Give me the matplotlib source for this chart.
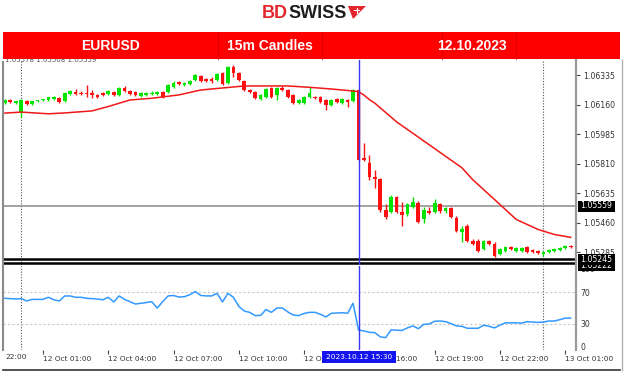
import numpy as np
import matplotlib
matplotlib.use("Agg")
import matplotlib.pyplot as plt
from matplotlib.transforms import Affine2D
from matplotlib.patches import Rectangle, Polygon
from matplotlib.lines import Line2D

W, H = 624, 375

# 15-minute bars, index counted from 12 Oct 00:00 (index 0)
bar_index = list(range(-3, 102))

# prices in points (1e-5)
open_pts = [106170, 106187, 106170, 106116, 106181, 106164, 106181, 106187, 106187, 106193,
            106199, 106181, 106223, 106235, 106229, 106229, 106229, 106217, 106229, 106223,
            106235, 106217, 106258, 106240, 106235, 106211, 106217, 106223, 106223, 106235,
            106235, 106264, 106294, 106276, 106282, 106305, 106329, 106311, 106311, 106305,
            106347, 106288, 106382, 106347, 106300, 106246, 106235, 106193, 106205, 106258,
            106217, 106258, 106246, 106217, 106170, 106170, 106205, 106205, 106205, 106187,
            106158, 106193, 106170, 106187, 106181, 106246, 105844, 105815, 105732, 105720,
            105537, 105525, 105614, 105525, 105508, 105555, 105578, 105478, 105531, 105525,
            105567, 105531, 105549, 105484, 105401, 105437, 105348, 105348, 105301, 105348,
            105330, 105271, 105289, 105313, 105289, 105289, 105313, 105295, 105289, 105271,
            105283, 105289, 105295, 105307, 105318]
high_pts = [106193, 106193, 106181, 106193, 106187, 106181, 106187, 106193, 106205, 106211,
            106205, 106235, 106246, 106252, 106240, 106276, 106246, 106223, 106235, 106246,
            106240, 106264, 106270, 106246, 106240, 106235, 106235, 106240, 106240, 106240,
            106282, 106300, 106300, 106294, 106305, 106341, 106335, 106317, 106323, 106347,
            106353, 106388, 106394, 106353, 106305, 106252, 106240, 106223, 106258, 106264,
            106264, 106270, 106252, 106223, 106193, 106211, 106264, 106211, 106211, 106193,
            106193, 106199, 106199, 106193, 106252, 106252, 105933, 105862, 105774, 105726,
            105567, 105626, 105620, 105584, 105573, 105614, 105590, 105555, 105555, 105602,
            105578, 105555, 105555, 105496, 105437, 105449, 105360, 105360, 105354, 105354,
            105342, 105307, 105318, 105318, 105313, 105313, 105318, 105301, 105295, 105289,
            105301, 105307, 105313, 105324, 105324]
low_pts = [106164, 106170, 106164, 106087, 106158, 106158, 106175, 106181, 106181, 106187,
           106170, 106175, 106217, 106217, 106217, 106205, 106199, 106199, 106211, 106217,
           106211, 106211, 106235, 106217, 106211, 106205, 106211, 106217, 106217, 106199,
           106229, 106258, 106276, 106270, 106276, 106300, 106294, 106294, 106288, 106300,
           106276, 106282, 106323, 106300, 106240, 106229, 106193, 106187, 106199, 106199,
           106187, 106240, 106199, 106164, 106164, 106164, 106199, 106193, 106170, 106128,
           106152, 106170, 106164, 106146, 106175, 105827, 105827, 105714, 105667, 105525,
           105478, 105514, 105519, 105437, 105496, 105549, 105460, 105460, 105508, 105514,
           105519, 105514, 105484, 105401, 105342, 105342, 105324, 105283, 105295, 105324,
           105254, 105265, 105283, 105295, 105283, 105283, 105277, 105277, 105271, 105259,
           105277, 105283, 105289, 105301, 105307]
close_pts = [106187, 106175, 106181, 106187, 106164, 106181, 106187, 106193, 106205, 106205,
             106175, 106229, 106240, 106223, 106223, 106223, 106217, 106205, 106217, 106240,
             106217, 106258, 106240, 106223, 106217, 106229, 106229, 106229, 106235, 106205,
             106276, 106288, 106282, 106288, 106300, 106335, 106300, 106300, 106300, 106341,
             106282, 106382, 106347, 106305, 106246, 106235, 106199, 106217, 106252, 106205,
             106258, 106246, 106205, 106170, 106187, 106205, 106229, 106199, 106175, 106158,
             106187, 106175, 106193, 106175, 106246, 105833, 105833, 105732, 105720, 105537,
             105490, 105614, 105525, 105502, 105567, 105584, 105466, 105537, 105519, 105573,
             105531, 105549, 105490, 105407, 105419, 105348, 105330, 105289, 105348, 105330,
             105259, 105301, 105313, 105301, 105307, 105307, 105283, 105283, 105277, 105283,
             105295, 105301, 105307, 105318, 105313]

# moving average read at selected bars
ma_index = [-3, 0, 5, 8, 13, 16, 20, 24, 29, 33, 41, 49, 53, 57, 61, 62, 63, 64, 65,
            69, 75, 81, 83, 88, 91, 95, 98, 101]
ma_pts = [106109, 106115, 106105, 106110, 106122, 106148, 106187, 106197, 106217, 106246,
          106270, 106270, 106262, 106252, 106240, 106236, 106216, 106189, 106168,
          106057, 105921, 105785, 105714, 105567, 105478, 105419, 105389, 105372]

rsi = [62.4, 62, 61.5, 62, 59, 61, 61, 61, 63.7, 60.5,
       59, 65.4, 65.4, 63.7, 63.7, 62.4, 62, 61.5, 60.5, 63.7,
       57.7, 65.4, 61, 58, 55.1, 56, 57, 58, 50, 58,
       65.4, 66, 64, 64.5, 67, 71, 66, 65.5, 65.4, 68.8,
       57.7, 68.8, 63.7, 52, 46.1, 44.4, 40.2, 40.5, 48, 44.4,
       50, 50, 45, 41, 40.2, 43, 44.4, 44.4, 41.9, 38.5,
       43.2, 43.5, 44, 43.2, 56, 21.8, 20.5, 18.8, 18.4, 13,
       12, 22, 21.5, 21.2, 24.5, 27, 23.5, 29, 29.5, 33,
       33.3, 32.5, 30, 27, 26.5, 24, 24, 24, 28, 26.5,
       24.5, 28, 31, 31, 31, 30.5, 32.5, 32, 31.5, 32,
       33.3, 33.3, 35, 37, 37]

price_ticks = [1.06335, 1.06160, 1.05985, 1.05810, 1.05635, 1.05460, 1.05285]
rsi_ticks = [0, 30, 70, 100]
rsi_levels = [30, 70]
time_tick_index = [4, 16, 28, 40, 52, 64, 76, 88, 100]
time_tick_labels = ["12 Oct 01:00", "12 Oct 04:00", "12 Oct 07:00", "12 Oct 10:00",
                    "12 Oct 13:00", "12 Oct 16:00", "12 Oct 19:00", "12 Oct 22:00",
                    "13 Oct 01:00"]
day_sep_index = [0, 96]
event_index = 62
event_label = "2023.10.12 15:30"
hline_grey = 1.05559
hlines_black = [1.05245, 1.05222]

idx = np.array(bar_index, dtype=float)
o = np.array(open_pts) / 1e5
h = np.array(high_pts) / 1e5
l = np.array(low_pts) / 1e5
c = np.array(close_pts) / 1e5

fig = plt.figure(figsize=(W / 100, H / 100), dpi=100)
fig.patch.set_facecolor("white")
px = Affine2D().scale(1 / W, -1 / H).translate(0, 1) + fig.transFigure


def rect(x0, y0, x1, y1):
    return [x0 / W, 1 - y1 / H, (x1 - x0) / W, (y1 - y0) / H]


XL = (-3.35, 101.98)
ax = fig.add_axes(rect(3, 60, 576, 265))
ax2 = fig.add_axes(rect(3, 266, 576, 350))

GREEN = "#00E400"
RED = "#FF1010"

# candles
cols = [GREEN if cc >= oo else RED for oo, cc in zip(o, c)]
ax.vlines(idx, l, h, colors=cols, linewidth=1.0, zorder=3)
body_b = np.minimum(o, c)
body_h = np.maximum(np.abs(c - o), 0.00003)
ax.bar(idx, body_h, bottom=body_b, width=0.68, color=cols, linewidth=0, zorder=4)

# moving average
ax.plot(ma_index, np.array(ma_pts) / 1e5, color="#F01818", lw=1.1, zorder=5)

# horizontal lines
ax.axhline(hline_grey, color="#8a8a8a", lw=1.1, zorder=2)
for v in hlines_black:
    ax.axhline(v, color="black", lw=1.8, zorder=2)

for a in (ax, ax2):
    for d in day_sep_index:
        a.axvline(d, color="#555555", lw=0.8, ls=(0, (1, 1.5)), zorder=1)
    a.axvline(event_index, color="#3838F0", lw=1.0, zorder=6)
    a.set_xlim(*XL)
    for s in ("left", "top", "bottom"):
        a.spines[s].set_visible(False)
    a.spines["right"].set_color("#9a9a9a")
    a.spines["right"].set_linewidth(1.6)
    a.set_facecolor("none")

ax.set_ylim(1.05208, 1.06424)
ax.set_xticks([])
ax.yaxis.tick_right()
ax.set_yticks(price_ticks)
ax.set_yticklabels([f"{v:.5f}" for v in price_ticks])
ax.tick_params(axis="y", length=3, width=0.8, color="#444444", labelsize=5.6,
               labelcolor="#333333", pad=2)

# RSI panel
ax2.plot(idx, rsi, color="#3399FF", lw=1.1, zorder=4)
for lv in rsi_levels:
    ax2.axhline(lv, color="#c8c8c8", lw=0.8, ls=(0, (2, 2)), zorder=1)
ax2.set_ylim(-3.85, 103.8)
ax2.yaxis.tick_right()
ax2.set_yticks(rsi_ticks)
ax2.set_yticklabels([str(t) for t in rsi_ticks])
ax2.tick_params(axis="y", length=0, labelsize=5.6, labelcolor="#333333", pad=3)
ax2.set_xticks(time_tick_index)
ax2.set_xticklabels(time_tick_labels)
ax2.tick_params(axis="x", length=3, width=0.8, color="#444444", labelsize=5.3,
                labelcolor="#333333", pad=1.5)
for t in ax2.get_xticklabels():
    t.set_ha("left")

# first, partially visible time label
fig.text(5 / W, 1 - 357 / H, "22:00", fontsize=5.3, color="#333333", va="center", ha="left")

# frame lines
fig.add_artist(Line2D([3, 3], [62, 350], transform=px, color="#8a8a8a", lw=1.5))
fig.add_artist(Line2D([3, 620], [370, 370], transform=px, color="#333333", lw=1.2))
fig.add_artist(Line2D([622, 622], [60, 370], transform=px, color="#b0b0b0", lw=1.0))

# top-left OHLC text (partially under the header)
fig.text(5 / W, 1 - 60.5 / H, "1.05578 1.05508 1.05559", fontsize=5, color="#555555",
         va="center", ha="left", zorder=1)

# header bar
fig.add_artist(Rectangle((3, 32), 617, 27, transform=px, facecolor="#FF0000",
                         edgecolor="none", zorder=5))
for xd in [218, 322, 442, 516]:
    fig.add_artist(Line2D([xd, xd], [32, 59], transform=px, color="#D80000", lw=0.6, zorder=6))
hdr = dict(color="white", fontsize=10, fontweight="bold", family="Liberation Sans",
           va="center", ha="center", zorder=7)
fig.text(110 / W, 1 - 46 / H, "EURUSD", **hdr)
fig.text(270 / W, 1 - 46 / H, "15m Candles", **hdr)
fig.text(472 / W, 1 - 46 / H, "12.10.2023", **hdr)

# logo
fig.text(262 / W, 1 - 13 / H, "BD", color="#E3262B", fontsize=13, fontweight="bold",
         family="Liberation Sans", va="center", ha="left")
fig.text(288 / W, 1 - 13 / H, "SWISS", color="#1E1E1E", fontsize=13, fontweight="bold",
         family="Liberation Sans", va="center", ha="left")
fig.add_artist(Polygon([(348, 6), (366, 6), (353, 19)], closed=True, transform=px,
                       facecolor="#E3262B", edgecolor="none"))
fig.add_artist(Line2D([354, 359], [10, 10], transform=px, color="white", lw=0.8))
fig.add_artist(Line2D([356.5, 356.5], [7.5, 12.5], transform=px, color="white", lw=0.8))

# price label boxes on the right axis
def price_box(y, txt, z):
    fig.add_artist(Rectangle((578, y - 5.5), 37, 11, transform=px, facecolor="black",
                             edgecolor="none", zorder=z))
    fig.text(580 / W, 1 - y / H, txt, color="white", fontsize=5.6, va="center",
             ha="left", zorder=z + 0.5)

price_box(265, "1.05222", 8)
price_box(259, "1.05245", 9)
price_box(206, "1.05559", 9)

# event time box
fig.add_artist(Rectangle((322, 351), 74, 11.5, transform=px, facecolor="#1414F0",
                         edgecolor="none", zorder=8))
fig.text(359 / W, 1 - 357 / H, event_label, color="white", fontsize=5.3, va="center",
         ha="center", zorder=9)

fig.savefig("out.png", dpi=100)
